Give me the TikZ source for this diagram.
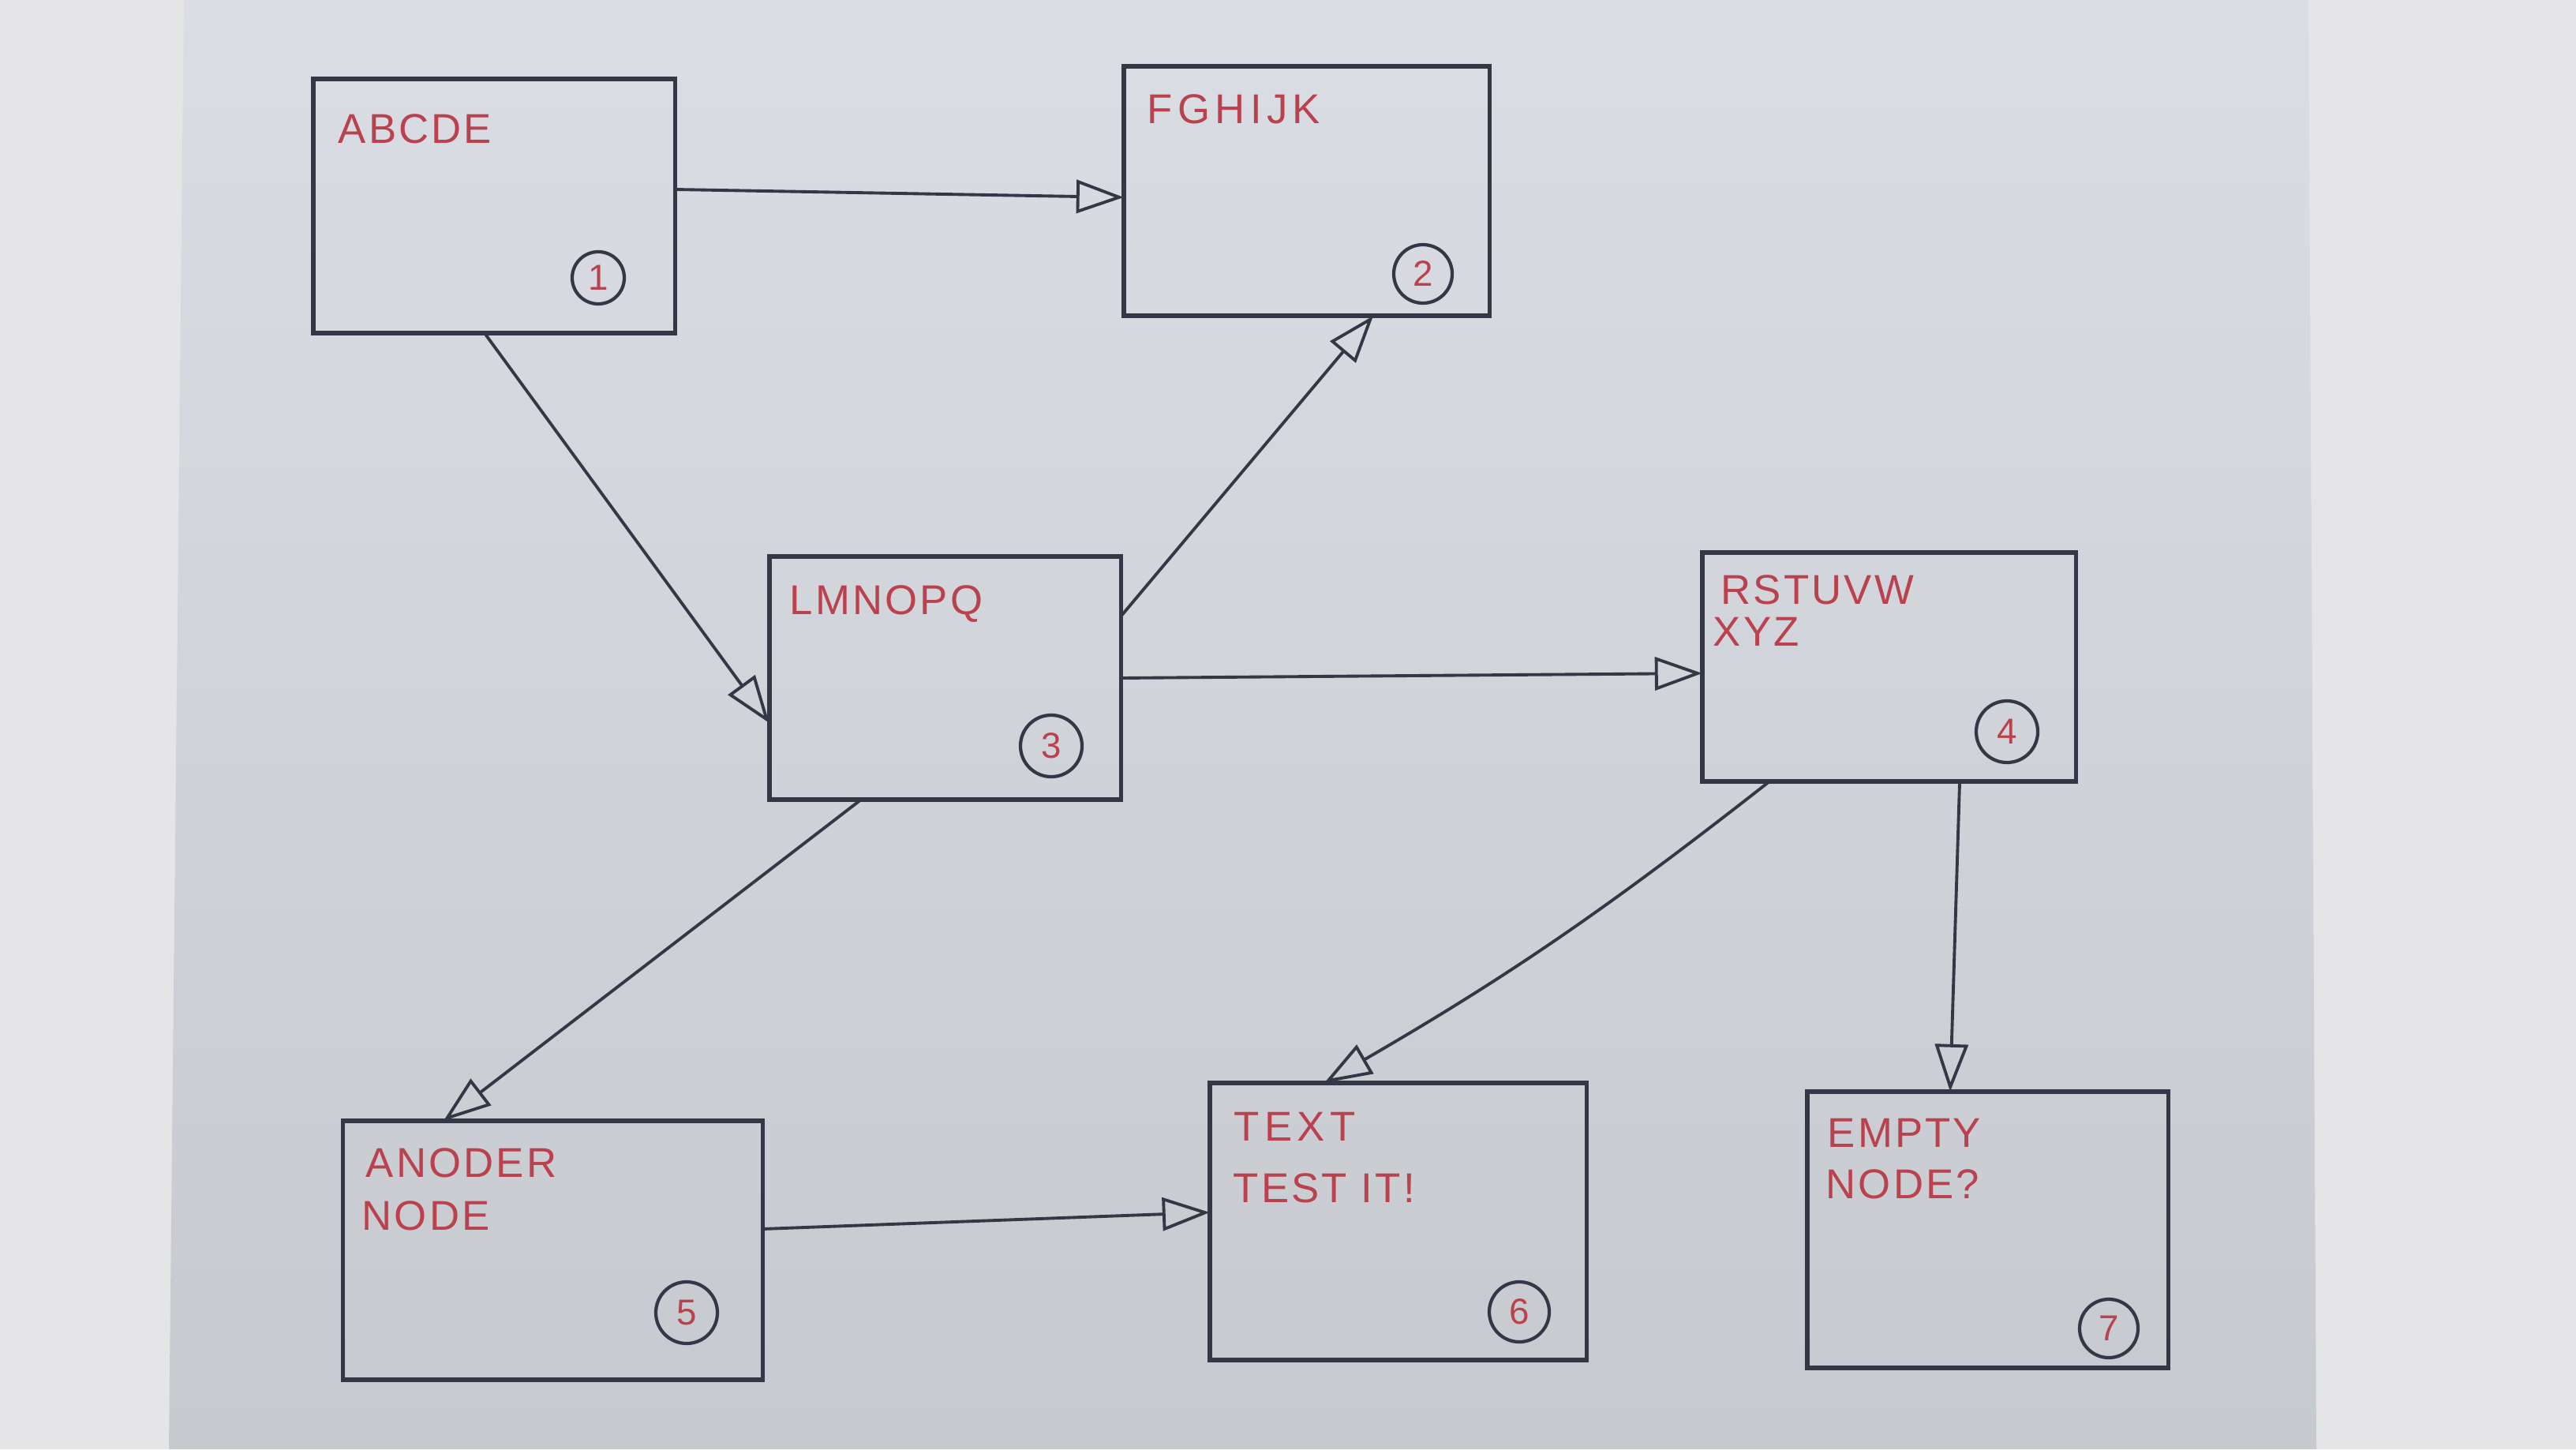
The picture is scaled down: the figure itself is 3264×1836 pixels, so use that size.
\documentclass[tikz,border=0pt]{standalone}
\usepackage{fontspec}
\setmainfont{Liberation Sans}
\usetikzlibrary{arrows.meta,calc}
\definecolor{penred}{RGB}{185,66,78}
\definecolor{pendark}{RGB}{52,56,70}
\definecolor{tablecol}{RGB}{229,229,231}
\definecolor{papertop}{RGB}{218,222,228}
\definecolor{paperbot}{RGB}{198,202,207}
\tikzset{
  boxnode/.style={draw=pendark, line width=1.5pt, rectangle, inner sep=0pt, outer sep=0pt},
  numcircle/.style={draw=pendark, line width=1.2pt, circle, inner sep=0pt, text=penred,
    font=\fontsize{13pt}{15pt}\selectfont},
  lbl/.style={text=penred, anchor=west, inner sep=0pt, font=\fontsize{15pt}{18pt}\selectfont\addfontfeature{LetterSpace=6}},
  conn/.style={draw=pendark, line width=1.1pt, -{Triangle[open, length=0.6cm, width=0.42cm]}}
}
\begin{document}
\begin{tikzpicture}[x=0.01cm, y=-0.01cm]
\useasboundingbox (0,0) rectangle (3264,1836);
% background
\fill[tablecol] (0,0) rectangle (3264,1836);
\shade[top color=papertop, bottom color=paperbot] (233,0) -- (2925,0) -- (2935,1836) -- (214,1836) -- cycle;

% boxes
\node[boxnode, minimum width=4.58cm, minimum height=3.22cm] (n1) at (626,261) {};
\node[boxnode, minimum width=4.63cm, minimum height=3.16cm] (n2) at (1655.5,242) {};
\node[boxnode, minimum width=4.45cm, minimum height=3.08cm] (n3) at (1197.5,859) {};
\node[boxnode, minimum width=4.73cm, minimum height=2.90cm] (n4) at (2393.5,845) {};
\node[boxnode, minimum width=5.31cm, minimum height=3.28cm] (n5) at (700.5,1584) {};
\node[boxnode, minimum width=4.77cm, minimum height=3.51cm] (n6) at (1771.5,1547.5) {};
\node[boxnode, minimum width=4.57cm, minimum height=3.50cm] (n7) at (2518.5,1558) {};

% labels
\node[lbl] (t1) at (428,163) {ABCDE};
\node[lbl, font=\fontsize{15pt}{18pt}\selectfont\addfontfeature{LetterSpace=12}] (t2) at (1453,138) {FGHIJK};
\node[lbl] (t3) at (1000,765) {LMNOPQ};
\node[lbl] (t4a) at (2180,747) {RSTUVW};
\node[lbl] (t4b) at (2170,800) {XYZ};
\node[lbl] (t5a) at (463,1473) {ANODER};
\node[lbl] (t5b) at (458,1540) {NODE};
\node[lbl, font=\fontsize{15pt}{18pt}\selectfont\addfontfeature{LetterSpace=12}] (t6a) at (1563,1427) {TEXT};
\node[lbl] (t6b) at (1562,1505) {TEST IT!};
\node[lbl] (t7a) at (2315,1435) {EMPTY};
\node[lbl] (t7b) at (2313,1500) {NODE?};

% numbered circles
\node[numcircle, minimum size=0.66cm] (c1) at (758,352) {1};
\node[numcircle, minimum size=0.74cm] (c2) at (1803,347) {2};
\node[numcircle, minimum size=0.78cm] (c3) at (1332,945) {3};
\node[numcircle, minimum size=0.78cm] (c4) at (2543,927) {4};
\node[numcircle, minimum size=0.78cm] (c5) at (870,1663) {5};
\node[numcircle, minimum size=0.76cm] (c6) at (1925,1662) {6};
\node[numcircle, minimum size=0.74cm] (c7) at (2672,1683) {7};

% connectors
\draw[conn] ([yshift=0.21cm]n1.east) -- ([yshift=-0.08cm]n2.west);
\draw[conn] ([xshift=-0.12cm]n1.south) -- ([yshift=-0.57cm]n3.west);
\draw[conn] ([yshift=0.78cm]n3.east) -- ([xshift=0.845cm]n2.south);
\draw[conn] (n3.east) -- ([yshift=-0.08cm]n4.west);
\draw[conn] ([xshift=-1.065cm]n3.south) -- ([xshift=-1.385cm]n5.north);
\draw[conn] ([xshift=-1.515cm]n4.south) to[bend left=4] ([xshift=-0.935cm]n6.north);
\draw[conn] ([xshift=0.895cm]n4.south) -- ([xshift=-0.475cm]n7.north);
\draw[conn] ([yshift=0.27cm]n5.east) -- ([yshift=0.115cm]n6.west);
\end{tikzpicture}
\end{document}
